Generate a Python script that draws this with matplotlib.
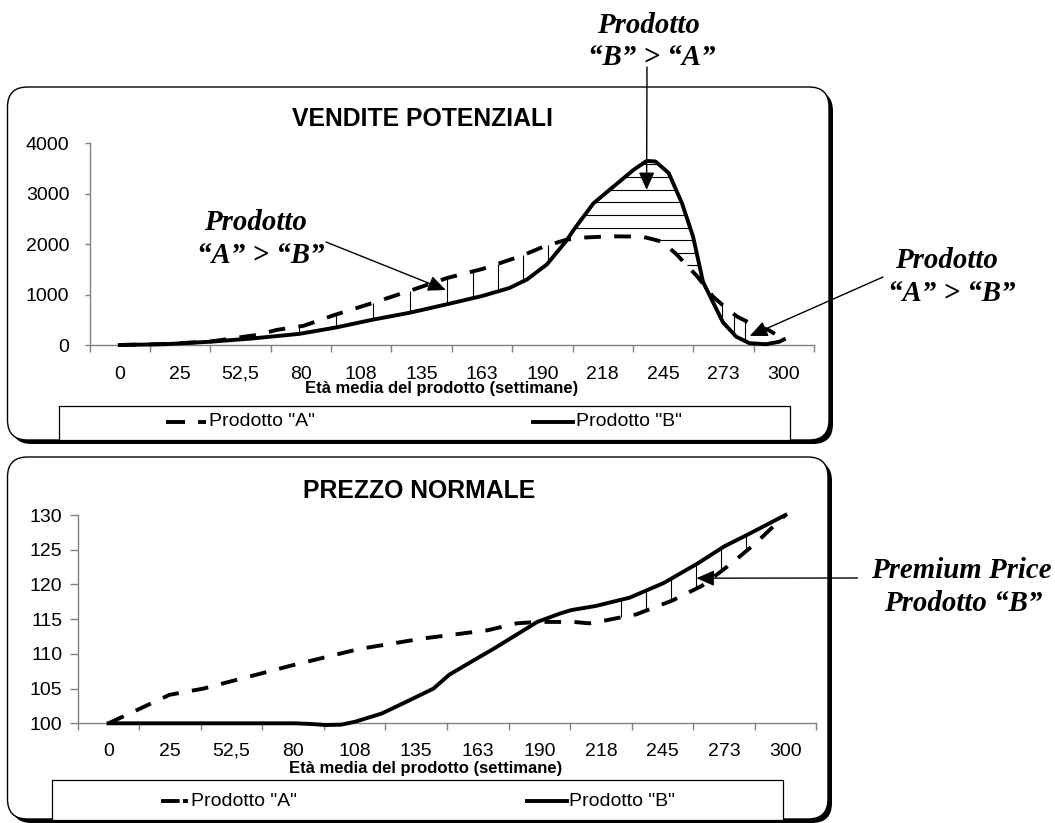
import numpy as np
import matplotlib
matplotlib.use("Agg")
import matplotlib.pyplot as plt
from matplotlib.patches import FancyBboxPatch, Rectangle
from matplotlib.lines import Line2D
from matplotlib.transforms import Affine2D

W, H = 1055, 823

# category labels of the age axis (weeks)
week_labels = ["0", "25", "52,5", "80", "108", "135", "163", "190", "218", "245", "273", "300"]
max_week = 300

# VENDITE POTENZIALI
weeks_a_sales = [0, 20, 41, 62, 71, 83, 97, 114, 131, 148, 164, 181, 192, 202, 209, 222, 236,
                 245, 251, 256, 261, 268, 274, 279, 288, 293, 300]
sales_a = [0, 20, 70, 200, 300, 380, 595, 830, 1075, 1330, 1510, 1760, 1960, 2090, 2130, 2155, 2150,
           2050, 1820, 1590, 1355, 960, 730, 560, 365, 300, 110]
weeks_b_sales = [0, 20, 41, 60, 81, 98, 114, 131, 148, 164, 176, 184, 193, 202, 205, 214, 223, 232,
                 238, 242, 248, 254, 259, 263.5, 268, 272.5, 278.5, 284.5, 292, 298, 300]
sales_b = [0, 15, 65, 130, 220, 350, 500, 640, 810, 975, 1130, 1300, 1600, 2080, 2280, 2810, 3140, 3470,
           3650, 3640, 3410, 2810, 2150, 1250, 850, 450, 165, 35, 15, 65, 110]

# PREZZO NORMALE
weeks_a_price = [0, 27, 42, 82, 111, 139, 168, 181, 190, 197, 206, 213, 220, 234, 250, 263, 276, 287, 300]
price_a = [100, 104.1, 105, 108.4, 110.7, 112.2, 113.4, 114.4, 114.6, 114.6, 114.6, 114.4, 114.8,
           115.7, 117.7, 119.8, 123, 126, 130]
weeks_b_price = [0, 82, 90, 96, 103, 109, 121, 132, 144, 151, 162, 171, 183, 190, 200, 205, 216, 231,
                 246, 261, 273, 284, 300]
price_b = [100, 100, 99.9, 99.75, 99.8, 100.2, 101.4, 103.1, 105, 107, 109.1, 110.8, 113.2, 114.6,
           115.8, 116.3, 116.9, 118.1, 120.2, 123, 125.5, 127.3, 130]

plt.rcParams['font.family'] = ['Liberation Sans', 'DejaVu Sans']
plt.rcParams['lines.scale_dashes'] = False

fig = plt.figure(figsize=(W / 100, H / 100), dpi=100)
fig.patch.set_facecolor('white')
# pixel coordinates, origin at the top-left corner of the figure
px = Affine2D().scale(1 / W, -1 / H).translate(0, 1) + fig.transFigure

SERIF = ['Liberation Serif', 'DejaVu Serif']
GREY = '#808080'
DASH_A = (0, (12, 9.6))
LW = 2.8


def panel(x0, y0, x1, y1, r=20, off=4):
    shadow = FancyBboxPatch((x0 + off, y0 + off), x1 - x0, y1 - y0,
                            boxstyle=f"round,pad=0,rounding_size={r}", transform=px,
                            facecolor='black', edgecolor='black', lw=0, zorder=-3)
    box = FancyBboxPatch((x0, y0), x1 - x0, y1 - y0,
                         boxstyle=f"round,pad=0,rounding_size={r}", transform=px,
                         facecolor='white', edgecolor='black', lw=1, zorder=-2)
    fig.add_artist(shadow)
    fig.add_artist(box)


def legend_box(x0, y0, x1, y1, a_sample, a_dash, a_text, b_sample, b_text, yc):
    fig.add_artist(Rectangle((x0, y0), x1 - x0, y1 - y0, transform=px, facecolor='white',
                             edgecolor='black', lw=0.9, zorder=-1))
    fig.add_artist(Line2D(a_sample, [yc, yc], transform=px, color='black', lw=LW,
                          linestyle=a_dash, zorder=4))
    fig.add_artist(Line2D(b_sample, [yc, yc], transform=px, color='black', lw=LW, zorder=4))
    fig.text(a_text / W, 1 - yc / H, 'Prodotto "A"', fontsize=14, ha='left', va='center')
    fig.text(b_text / W, 1 - yc / H, 'Prodotto "B"', fontsize=14, ha='left', va='center')


def make_axes(box, ylim, yticks, ypad, ytick_len, xpad):
    x0, y0, x1, y1 = box
    ax = fig.add_axes([x0 / W, 1 - y1 / H, (x1 - x0) / W, (y1 - y0) / H])
    ax.set_facecolor('none')
    n = len(week_labels)
    step = max_week / (n - 1)
    ax.set_xlim(-step / 2, max_week + step / 2)
    ax.set_ylim(*ylim)
    ax.set_xticks([-step / 2 + k * step for k in range(n + 1)])
    ax.set_xticklabels([])
    ax.set_xticks([k * step for k in range(n)], minor=True)
    ax.set_xticklabels(week_labels, minor=True)
    ax.set_yticks(yticks)
    ax.tick_params(axis='x', which='major', direction='out', length=5, width=1, color=GREY)
    ax.tick_params(axis='x', which='minor', length=0, labelsize=14, pad=xpad)
    ax.tick_params(axis='y', direction='out', length=ytick_len, width=1, color=GREY,
                   labelsize=14, pad=ypad)
    for s in ('top', 'right'):
        ax.spines[s].set_visible(False)
    for s in ('left', 'bottom'):
        ax.spines[s].set_color(GREY)
        ax.spines[s].set_linewidth(1)
    return ax


def vertical_hatch(ax, weeks, wl, vl, wu, vu):
    for w in weeks:
        ax.vlines(w, np.interp(w, wl, vl), np.interp(w, wu, vu), color='black', lw=0.8, zorder=1)


# ---------- panels ----------
panel(7.5, 87, 829, 440)
panel(7.5, 457, 828, 819)

# ---------- VENDITE POTENZIALI ----------
ax1 = make_axes((89.6, 143.3, 814, 345), (0, 4000), [0, 1000, 2000, 3000, 4000],
                ypad=11, ytick_len=3.6, xpad=15)
ax1.plot(weeks_b_sales, sales_b, color='black', lw=LW, solid_joinstyle='round', zorder=3,
         clip_on=False)
ax1.plot(weeks_a_sales, sales_a, color='black', lw=LW, linestyle=DASH_A, zorder=3, clip_on=False)

# A above B: vertical hatching
vertical_hatch(ax1, np.r_[np.arange(81, 149, 16.75), np.arange(159.4, 195, 11.3)],
               weeks_b_sales, sales_b, weeks_a_sales, sales_a)
vertical_hatch(ax1, np.arange(272, 284, 5.3), weeks_b_sales, sales_b, weeks_a_sales, sales_a)

# B above A: horizontal hatching
grid = np.linspace(0, max_week, 3001)
a_g = np.interp(grid, weeks_a_sales, sales_a)
b_g = np.interp(grid, weeks_b_sales, sales_b)
for lvl in np.arange(1580, 3600, 250):
    inside = (b_g > lvl) & (a_g < lvl)
    edges = np.flatnonzero(np.diff(np.r_[0, inside.astype(int), 0]))
    for s, e in zip(edges[::2], edges[1::2]):
        if grid[e - 1] - grid[s] > 2:
            ax1.hlines(lvl, grid[s], grid[e - 1], color='black', lw=0.8, zorder=1)

fig.text(423 / W, 1 - 126.5 / H, 'VENDITE POTENZIALI', fontsize=17.8, fontweight='bold',
         ha='center', va='baseline')
fig.text(442 / W, 1 - 393.5 / H, 'Età media del prodotto (settimane)', fontsize=12,
         fontweight='bold', ha='center', va='baseline')
legend_box(59, 406, 790, 440, [166, 206], (0, (13.7, 9.4, 5.8, 10)), 209,
           [533, 573], 576, 422)

# ---------- PREZZO NORMALE ----------
ax2 = make_axes((77.8, 515, 816.2, 723.3), (100, 130), [100, 105, 110, 115, 120, 125, 130],
                ypad=5, ytick_len=6, xpad=14)
ax2.plot(weeks_b_price, price_b, color='black', lw=LW, solid_joinstyle='round', zorder=3,
         clip_on=False)
ax2.plot(weeks_a_price, price_a, color='black', lw=LW, linestyle=DASH_A, zorder=3, clip_on=False)
vertical_hatch(ax2, np.arange(227, 284, 11.1), weeks_a_price, price_a, weeks_b_price, price_b)

fig.text(419 / W, 1 - 498 / H, 'PREZZO NORMALE', fontsize=17.8, fontweight='bold',
         ha='center', va='baseline')
fig.text(425.6 / W, 1 - 772.5 / H, 'Età media del prodotto (settimane)', fontsize=12,
         fontweight='bold', ha='center', va='baseline')
legend_box(52.4, 780, 783, 820, [160.6, 187.6], (0, (13.4, 2.4, 3.6, 10)), 191,
           [526.5, 567.3], 569, 801)

# ---------- callouts ----------
def callout(lines, xc, baselines):
    for text, x, yb in zip(lines, xc, baselines):
        fig.text(x / W, 1 - yb / H, text, fontsize=20.8, fontfamily=SERIF, fontweight='bold',
                 fontstyle='italic', ha='center', va='baseline')


def pointer(ax, xy, start):
    ax.annotate('', xy=xy, xycoords='data', xytext=start, textcoords=px,
                annotation_clip=False,
                arrowprops=dict(arrowstyle='-|>,head_length=0.9,head_width=0.4',
                                mutation_scale=12, color='black', lw=1,
                                shrinkA=0, shrinkB=0))


callout(['Prodotto', '“A” > “B”'], [255, 261], [230, 263])
pointer(ax1, (147.3, 1091), (326, 242))

callout(['Prodotto', '“B” > “A”'], [648, 652], [33, 65])
pointer(ax1, (238, 3075), (647, 67))

callout(['Prodotto', '“A” > “B”'], [946, 952], [268, 301])
pointer(ax1, (284.6, 179), (883, 277))

callout(['Premium Price', 'Prodotto “B”'], [961, 963.5], [578, 611])
pointer(ax2, (260.6, 120.9), (857.5, 578))

fig.savefig('out.png', dpi=100, facecolor='white')
